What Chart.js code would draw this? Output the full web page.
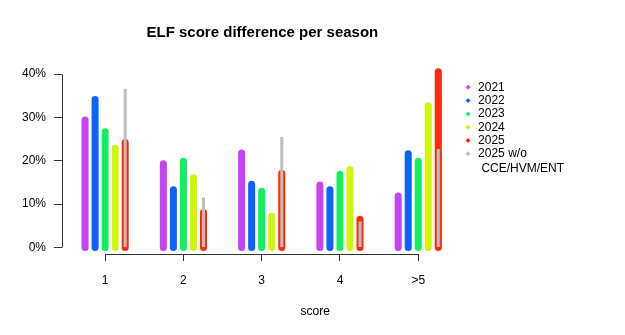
<!DOCTYPE html>
<html>
<head>
<meta charset="utf-8">
<script src="https://cdn.jsdelivr.net/npm/chart.js@4/dist/chart.umd.min.js"></script>
<style>
body{margin:0;background:#fff}
</style>
</head>
<body>
<canvas id="elf" width="625" height="335"></canvas>
<script>
const categories = ["1","2","3","4",">5"]
const yTicks = [0,10,20,30,40]

const s2021 = [30.2,20.1,22.6,15.2,12.7]
const s2022 = [34.9,14.1,15.4,14.1,22.4]
const s2023 = [27.5,20.7,13.8,17.7,20.7]
const s2024 = [23.7,16.9,8.0,18.8,33.5]
const s2025 = [25.0,8.9,17.9,7.3,41.3]
const s2025wo = [36.6,11.5,25.5,6.0,22.7]

const FONT = "'Liberation Sans', Arial, sans-serif"

// categories sit at 1..n on a linear x axis
function pts(vals){
return vals.map((v,i)=>({x:i+1, y:v}))
}

function bar(label, vals, color, stack, extra){
return Object.assign({
label:label,
data:pts(vals),
backgroundColor:color,
borderWidth:0,
borderRadius:4,
borderSkipped:false,
barPercentage:0.7,
categoryPercentage:50/78,
stack:stack,
base:-0.8,
clip:false
}, extra||{})
}

// R style axes: y line only from 0 to 40, x line only from first to last tick
const rAxes = {
id:'rAxes',
afterDraw(chart){
const {ctx, chartArea, scales:{x,y}} = chart
const left = Math.round(chartArea.left)+0.5
const bottom = Math.round(chartArea.bottom)+0.5
ctx.save()
ctx.strokeStyle="#333"
ctx.lineWidth=1
ctx.beginPath()
ctx.moveTo(left, Math.round(y.getPixelForValue(yTicks[0]))+0.5)
ctx.lineTo(left, Math.round(y.getPixelForValue(yTicks[yTicks.length-1]))+0.5)
ctx.moveTo(Math.round(x.getPixelForValue(1))+0.5, bottom)
ctx.lineTo(Math.round(x.getPixelForValue(categories.length))+0.5, bottom)
ctx.stroke()
ctx.restore()
}
}

new Chart(document.getElementById("elf"),{
type:'bar',
data:{
datasets:[
bar("2021", s2021, "#C842F5", "s1"),
bar("2022", s2022, "#0A64FA", "s2"),
bar("2023", s2023, "#12F062", "s3"),
bar("2024", s2024, "#D2F50A", "s4"),
bar("2025", s2025, "#FF2A0A", "s5", {order:1}),
// trailing spaces only widen the legend column
bar(["2025 w/o"," CCE/HVM/ENT                "], s2025wo, "#BEBEBE", "s5", {barPercentage:0.3, borderRadius:0, base:0})
]
},
options:{
responsive:false,
animation:false,
devicePixelRatio:1,
layout:{padding:{left:20,right:14.6,top:0,bottom:0}},
scales:{
x:{
type:'linear',
offset:false,
min:0.449,
max:5.569,
afterBuildTicks:(axis)=>{ axis.ticks = categories.map((c,i)=>({value:i+1})) },
ticks:{
color:"#000",
padding:12,
font:{family:FONT, size:12},
callback:(v)=>categories[v-1]
},
grid:{offset:false, drawOnChartArea:false, drawTicks:true, tickLength:7, color:"#333"},
border:{display:false}
},
y:{
stacked:false,
min:-1.5,
max:40,
afterBuildTicks:(axis)=>{ axis.ticks = yTicks.map(v=>({value:v})) },
afterFit:(axis)=>{ axis.width = 42 },
ticks:{
color:"#000",
padding:8,
font:{family:FONT, size:12},
callback:(v)=>v+"%"
},
grid:{drawOnChartArea:false, drawTicks:true, tickLength:8, color:"#333"},
border:{display:false}
}
},
plugins:{
title:{
display:true,
text:"ELF score difference per season",
color:"#000",
fullSize:false,
font:{family:FONT, size:15, weight:'bold'},
padding:{top:24, bottom:32}
},
subtitle:{
display:true,
text:"score",
position:'bottom',
color:"#000",
font:{family:FONT, size:12},
padding:{top:5.4, bottom:15.8}
},
legend:{
position:'right',
align:'start',
fullSize:false,
title:{display:true, text:'', font:{size:2, lineHeight:1}, padding:{top:0, bottom:4}},
labels:{
usePointStyle:true,
pointStyle:'rectRot',
boxWidth:8,
boxHeight:3.5,
padding:1.3,
color:"#000",
font:{family:FONT, size:12},
sort:(a,b)=>a.datasetIndex-b.datasetIndex
}
},
tooltip:{enabled:false}
}
},
plugins:[rAxes]
})
</script>
</body>
</html>
